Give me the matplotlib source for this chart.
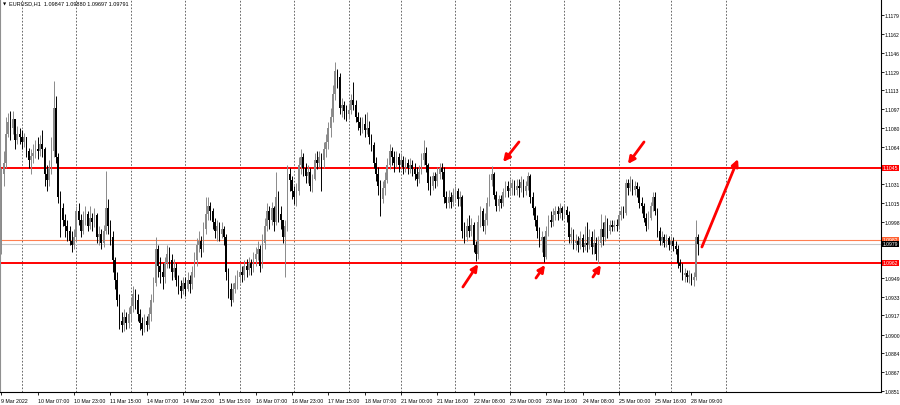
import matplotlib
matplotlib.use("Agg")
import matplotlib.pyplot as plt
from matplotlib.transforms import blended_transform_factory

plt.rcParams['font.family'] = ['Liberation Sans', 'DejaVu Sans']

# EURUSD H1, 9 Mar 2022 15:00 .. 28 Mar 2022
first_open = 1.0978
closes = [
    1.1040, 1.1050, 1.1075, 1.1085, 1.1080, 1.1088, 1.1070, 1.1075, 1.1072, 1.1068,
    1.1072, 1.1060, 1.1052, 1.1056, 1.1058, 1.1062, 1.1060, 1.1066, 1.1062, 1.1040,
    1.1035, 1.1045, 1.1060, 1.1098, 1.1055, 1.1020, 1.1010, 1.1000, 1.0995, 1.0990,
    1.0982, 1.0978, 1.0985, 1.1008, 1.1000, 1.0990, 1.1000, 1.1005, 1.0995, 1.1002,
    1.0998, 1.1004, 1.0985, 1.0988, 1.0980, 1.0990, 1.1010, 1.0995, 1.0985, 1.0965,
    1.0948, 1.0930, 1.0912, 1.0908, 1.0915, 1.0910, 1.0918, 1.0925, 1.0935, 1.0930,
    1.0918, 1.0910, 1.0905, 1.0912, 1.0908, 1.0918, 1.0930, 1.0945, 1.0975, 1.0960,
    1.0955, 1.0950, 1.0962, 1.0970, 1.0965, 1.0955, 1.0958, 1.0948, 1.0942, 1.0938,
    1.0945, 1.0940, 1.0948, 1.0944, 1.0955, 1.0965, 1.0978, 1.0982, 1.0975, 1.0992,
    1.1005, 1.1012, 1.1008, 1.0998, 1.0990, 1.0995, 1.0988, 1.0992, 1.0985, 1.0955,
    1.0940, 1.0930, 1.0940, 1.0945, 1.0950, 1.0955, 1.0952, 1.0960, 1.0956, 1.0962,
    1.0958, 1.0966, 1.0970, 1.0975, 1.0960, 1.0980, 1.0995, 1.1008, 1.1000, 1.1010,
    1.0998, 1.1020, 1.1005, 1.1000, 1.0985, 1.0995, 1.1040, 1.1035, 1.1025, 1.1020,
    1.1025, 1.1048, 1.1055, 1.1045, 1.1038, 1.1042, 1.1030, 1.1036, 1.1052, 1.1050,
    1.1055, 1.1052, 1.1062, 1.1068, 1.1080, 1.1090, 1.1110, 1.1130, 1.1125, 1.1098,
    1.1100, 1.1095, 1.1092, 1.1096, 1.1105, 1.1100, 1.1090, 1.1085, 1.1080, 1.1084,
    1.1078, 1.1080, 1.1072, 1.1065, 1.1050, 1.1040, 1.1030, 1.1018, 1.1028, 1.1035,
    1.1048, 1.1060, 1.1055, 1.1050, 1.1055, 1.1048, 1.1052, 1.1046, 1.1050, 1.1045,
    1.1048, 1.1044, 1.1040, 1.1036, 1.1042, 1.1052, 1.1058, 1.1048, 1.1032, 1.1030,
    1.1038, 1.1034, 1.1040, 1.1045, 1.1042, 1.1020, 1.1015, 1.1020, 1.1016, 1.1022,
    1.1025, 1.1018, 1.1020, 1.0990, 1.0985, 1.0995, 1.0990, 1.0996, 1.0978, 1.0970,
    1.0998, 1.1008, 1.0995, 1.1000, 1.1015, 1.1035, 1.1040, 1.1022, 1.1012, 1.1018,
    1.1015, 1.1024, 1.1030, 1.1025, 1.1028, 1.1032, 1.1026, 1.1030, 1.1028, 1.1033,
    1.1025, 1.1030, 1.1038, 1.1020, 1.1010, 1.1000, 1.0990, 1.0982, 1.0985, 1.0968,
    1.0990, 1.1000, 1.0998, 1.1004, 1.1008, 1.1005, 1.1010, 1.1006, 1.1009, 1.1004,
    1.0985, 1.0988, 1.0980, 1.0982, 1.0978, 1.0984, 1.0976, 1.0980, 1.0978, 1.0985,
    1.0976, 1.0980, 1.0970, 1.0980, 1.0992, 1.0985, 1.0998, 1.0990, 1.0996, 1.0994,
    1.0996, 1.0995, 1.1004, 1.1008, 1.1006, 1.1032, 1.1028, 1.1032, 1.1026, 1.1030,
    1.1027, 1.1015, 1.1012, 1.1002, 1.0995, 1.1002, 1.1012, 1.1020, 1.1008, 1.0990,
    1.0982, 1.0985, 1.0980, 1.0984, 1.0978, 1.0982, 1.0977, 1.0975, 1.0962, 1.0960,
    1.0952, 1.0954, 1.0950, 1.0952, 1.0948, 1.0950, 1.09847, 1.09791,
]
highs = [
    1.1045, 1.1060, 1.1090, 1.1093, 1.1095, 1.1095, 1.1088, 1.1082, 1.1080, 1.1078,
    1.1076, 1.1070, 1.1063, 1.1062, 1.1066, 1.1070, 1.1072, 1.1074, 1.1078, 1.1064,
    1.1048, 1.1052, 1.1072, 1.1121, 1.1108, 1.1058, 1.1025, 1.1015, 1.1005, 1.1000,
    1.0995, 1.0990, 1.0992, 1.1012, 1.1015, 1.1005, 1.1008, 1.1012, 1.1008, 1.1012,
    1.1006, 1.1010, 1.1006, 1.0995, 1.0992, 1.0996, 1.1043, 1.1018, 1.1000, 1.0990,
    1.0968, 1.0955, 1.0935, 1.0920, 1.0922, 1.0920, 1.0924, 1.0932, 1.0942, 1.0940,
    1.0935, 1.0922, 1.0915, 1.0918, 1.0916, 1.0924, 1.0935, 1.0950, 1.0985, 1.0978,
    1.0968, 1.0962, 1.0968, 1.0978, 1.0976, 1.0970, 1.0966, 1.0962, 1.0952, 1.0948,
    1.0950, 1.0950, 1.0955, 1.0952, 1.0960, 1.0972, 1.0984, 1.0990, 1.0986, 1.0998,
    1.1020, 1.1020, 1.1016, 1.1010, 1.1002, 1.1000, 1.0998, 1.0998, 1.0995, 1.0988,
    1.0958, 1.0945, 1.0945, 1.0952, 1.0956, 1.0962, 1.0960, 1.0965, 1.0966, 1.0968,
    1.0966, 1.0972, 1.0976, 1.0982, 1.0978, 1.0988, 1.1002, 1.1015, 1.1012, 1.1016,
    1.1012, 1.1042, 1.1025, 1.1012, 1.1000, 1.1000, 1.1048, 1.1045, 1.1038, 1.1030,
    1.1032, 1.1055, 1.1062, 1.1058, 1.1050, 1.1048, 1.1045, 1.1040, 1.1058, 1.1060,
    1.1060, 1.1058, 1.1068, 1.1075, 1.1085, 1.1098, 1.1118, 1.1138, 1.1132, 1.1128,
    1.1106, 1.1104, 1.1100, 1.1102, 1.1110, 1.1120, 1.1105, 1.1094, 1.1090, 1.1090,
    1.1092, 1.1094, 1.1086, 1.1075, 1.1068, 1.1055, 1.1046, 1.1035, 1.1034, 1.1042,
    1.1054, 1.1066, 1.1064, 1.1060, 1.1060, 1.1058, 1.1058, 1.1056, 1.1055, 1.1053,
    1.1054, 1.1052, 1.1050, 1.1046, 1.1048, 1.1058, 1.1070, 1.1064, 1.1050, 1.1038,
    1.1042, 1.1042, 1.1046, 1.1050, 1.1050, 1.1046, 1.1025, 1.1026, 1.1024, 1.1028,
    1.1030, 1.1028, 1.1025, 1.1022, 1.0998, 1.1002, 1.1004, 1.1002, 1.0998, 1.0982,
    1.1004, 1.1012, 1.1010, 1.1006, 1.1020, 1.1040, 1.1047, 1.1042, 1.1025, 1.1022,
    1.1022, 1.1028, 1.1034, 1.1034, 1.1036, 1.1036, 1.1035, 1.1036, 1.1036, 1.1038,
    1.1036, 1.1034, 1.1042, 1.1040, 1.1024, 1.1012, 1.1004, 1.0994, 1.0990, 1.0986,
    1.0995, 1.1004, 1.1008, 1.1010, 1.1012, 1.1012, 1.1015, 1.1012, 1.1014, 1.1012,
    1.1008, 1.0994, 1.0992, 1.0988, 1.0986, 1.0990, 1.0988, 1.0995, 1.0998, 1.0992,
    1.0990, 1.0992, 1.0985, 1.0986, 1.1005, 1.0998, 1.1004, 1.1002, 1.1000, 1.1000,
    1.1000, 1.1001, 1.1008, 1.1012, 1.1012, 1.1036, 1.1036, 1.1038, 1.1036, 1.1034,
    1.1033, 1.1030, 1.1020, 1.1015, 1.1006, 1.1008, 1.1016, 1.1024, 1.1024, 1.1010,
    1.0994, 1.0990, 1.0988, 1.0988, 1.0986, 1.0986, 1.0985, 1.0982, 1.0978, 1.0966,
    1.0962, 1.0958, 1.0956, 1.0956, 1.0954, 1.0955, 1.1000, 1.09880,
]
lows = [
    1.0970, 1.1030, 1.1045, 1.1072, 1.1070, 1.1075, 1.1062, 1.1066, 1.1066, 1.1062,
    1.1064, 1.1055, 1.1045, 1.1040, 1.1050, 1.1054, 1.1053, 1.1056, 1.1055, 1.1030,
    1.1025, 1.1030, 1.1040, 1.1055, 1.1050, 1.1015, 1.0985, 1.0995, 1.0985, 1.0982,
    1.0978, 1.0972, 1.0975, 1.0982, 1.0996, 1.0985, 1.0988, 1.0996, 1.0990, 1.0992,
    1.0990, 1.0994, 1.0980, 1.0978, 1.0975, 1.0976, 1.0988, 1.0988, 1.0978, 1.0955,
    1.0940, 1.0925, 1.0905, 1.0902, 1.0903, 1.0905, 1.0906, 1.0912, 1.0920, 1.0922,
    1.0912, 1.0904, 1.0900, 1.0902, 1.0903, 1.0905, 1.0912, 1.0928, 1.0942, 1.0950,
    1.0945, 1.0940, 1.0945, 1.0958, 1.0958, 1.0948, 1.0950, 1.0942, 1.0935, 1.0932,
    1.0935, 1.0934, 1.0938, 1.0936, 1.0940, 1.0950, 1.0960, 1.0972, 1.0968, 1.0972,
    1.0988, 1.1000, 1.1000, 1.0992, 1.0984, 1.0982, 1.0982, 1.0984, 1.0978, 1.0948,
    1.0932, 1.0925, 1.0928, 1.0936, 1.0940, 1.0945, 1.0946, 1.0948, 1.0950, 1.0952,
    1.0952, 1.0955, 1.0960, 1.0965, 1.0955, 1.0958, 1.0975, 1.0990, 1.0992, 1.0996,
    1.0990, 1.0996, 1.0998, 1.0992, 1.0980, 1.0950, 1.0990, 1.1025, 1.1018, 1.1014,
    1.1012, 1.1022, 1.1040, 1.1038, 1.1032, 1.1032, 1.1025, 1.1024, 1.1035, 1.1044,
    1.1046, 1.1025, 1.1045, 1.1055, 1.1062, 1.1072, 1.1085, 1.1105, 1.1115, 1.1092,
    1.1090, 1.1088, 1.1086, 1.1088, 1.1092, 1.1096, 1.1085, 1.1078, 1.1074, 1.1076,
    1.1072, 1.1075, 1.1066, 1.1060, 1.1045, 1.1034, 1.1022, 1.1003, 1.1015, 1.1022,
    1.1032, 1.1044, 1.1048, 1.1042, 1.1046, 1.1042, 1.1044, 1.1040, 1.1042, 1.1040,
    1.1041, 1.1038, 1.1035, 1.1030, 1.1032, 1.1040, 1.1048, 1.1042, 1.1026, 1.1022,
    1.1026, 1.1028, 1.1030, 1.1036, 1.1036, 1.1015, 1.1010, 1.1010, 1.1010, 1.1012,
    1.1016, 1.1012, 1.1012, 1.0984, 1.0980, 1.0982, 1.0985, 1.0986, 1.0972, 1.0964,
    1.0966, 1.0994, 1.0990, 1.0988, 1.0996, 1.1012, 1.1030, 1.1018, 1.1008, 1.1008,
    1.1010, 1.1012, 1.1020, 1.1020, 1.1022, 1.1022, 1.1022, 1.1022, 1.1020, 1.1024,
    1.1020, 1.1022, 1.1026, 1.1015, 1.1004, 1.0995, 1.0984, 1.0976, 1.0972, 1.0963,
    1.0966, 1.0986, 1.0994, 1.0995, 1.1000, 1.1000, 1.1002, 1.1000, 1.1002, 1.0998,
    1.0980, 1.0980, 1.0975, 1.0974, 1.0972, 1.0975, 1.0972, 1.0974, 1.0972, 1.0975,
    1.0970, 1.0970, 1.0965, 1.0962, 1.0976, 1.0978, 1.0982, 1.0984, 1.0988, 1.0990,
    1.0990, 1.0990, 1.0992, 1.1000, 1.1002, 1.1004, 1.1022, 1.1025, 1.1022, 1.1022,
    1.1020, 1.1010, 1.1006, 1.0998, 1.0990, 1.0992, 1.1000, 1.1008, 1.1004, 1.0985,
    1.0978, 1.0978, 1.0976, 1.0976, 1.0974, 1.0975, 1.0973, 1.0970, 1.0958, 1.0955,
    1.0948, 1.0946, 1.0946, 1.0945, 1.0943, 1.0942, 1.0948, 1.09697,
]
opens = [first_open] + closes[:-1]

# time axis: a label every 16 bars, a dotted line at each day start
label_bars = list(range(0, 305, 16))
label_text = ["9 Mar 2022", "10 Mar 07:00", "10 Mar 23:00", "11 Mar 15:00",
              "14 Mar 07:00", "14 Mar 23:00", "15 Mar 15:00", "16 Mar 07:00",
              "16 Mar 23:00", "17 Mar 15:00", "18 Mar 07:00", "21 Mar 00:00",
              "21 Mar 16:00", "22 Mar 08:00", "23 Mar 00:00", "23 Mar 16:00",
              "24 Mar 08:00", "25 Mar 00:00", "25 Mar 16:00", "28 Mar 09:00"]
day_bars = [9, 33, 57, 81, 105, 129, 153, 176, 200, 224, 248, 272, 295, 319]

price_ticks = [1.1179, 1.1162, 1.1146, 1.1129, 1.1113, 1.1097, 1.1080, 1.1064,
               1.1031, 1.1015, 1.0998, 1.0949, 1.0933, 1.0917, 1.0900,
               1.0884, 1.0867, 1.0851]

resistance = 1.10455
support = 1.09625
ask_level = 1.09827
bid_level = 1.09791

# arrows: (tail bar, tail price, head bar, head price)
arrows = [
    (228.0, 1.10680, 221.0, 1.10505),
    (283.1, 1.10680, 276.0, 1.10488),
    (203.3, 1.09415, 210.0, 1.09615),
    (235.5, 1.09493, 239.5, 1.09607),
    (260.6, 1.09502, 264.1, 1.09607),
    (308.6, 1.09764, 324.5, 1.10531),
]

fig = plt.figure(figsize=(9, 4.06), dpi=100)
ax = fig.add_axes([0, 13 / 406, 881 / 900, 393 / 406])
ax.set_xlim(-0.62, 387.5)
ax.set_ylim(1.08499, 1.11927)

for b in day_bars:
    ax.axvline(b, color='#505050', lw=0.6, ls=(0, (2, 2)), zorder=1)

ax.axhline(resistance, color='#ff0000', lw=1.4, zorder=2)
ax.axhline(support, color='#ff0000', lw=1.4, zorder=2)
ax.axhline(ask_level, color='#ff7f50', lw=0.8, zorder=2)
ax.axhline(bid_level, color='#c8c8c8', lw=0.8, zorder=2)

idx = list(range(len(closes)))
cols = ['#8a8a8a' if c >= o else '#000000' for o, c in zip(opens, closes)]
ax.vlines(idx, lows, highs, colors=cols, lw=0.7, zorder=3)
bottoms = [min(o, c) for o, c in zip(opens, closes)]
heights = [max(abs(c - o), 0.00004) for o, c in zip(opens, closes)]
ax.bar(idx, heights, bottom=bottoms, width=0.72, color=cols, lw=0, zorder=4)

for tx, ty, hx, hy in arrows:
    ax.annotate('', xy=(hx, hy), xytext=(tx, ty),
                arrowprops=dict(arrowstyle='-|>', color='#ff0000', lw=2.0,
                                mutation_scale=10, shrinkA=0, shrinkB=0),
                zorder=6)

# axes look
ax.spines['top'].set_visible(False)
ax.spines['left'].set_color('#909090')
ax.spines['left'].set_linewidth(0.8)
ax.spines['right'].set_linewidth(0.8)
ax.spines['bottom'].set_linewidth(0.8)

ax.yaxis.tick_right()
ax.set_yticks(price_ticks)
ax.set_yticklabels([f"{p:.4f}" for p in price_ticks])
ax.tick_params(axis='y', length=2, width=0.6, labelsize=3.6, pad=0.8)

ax.set_xticks(label_bars)
ax.set_xticklabels(label_text)
ax.tick_params(axis='x', length=2.5, width=0.6, labelsize=3.8, pad=1.5)
for lbl in ax.get_xticklabels():
    lbl.set_ha('left')

# price boxes on the right scale
tr = blended_transform_factory(ax.transAxes, ax.transData)
boxes = [(resistance, "1.1045", '#ff0000', 'white'),
         (ask_level, "1.0982", '#ff6030', 'white'),
         (bid_level, "1.0979", '#000000', 'white'),
         (support, "1.0962", '#ff0000', 'white')]
for y, txt, bg, fg in boxes:
    ax.text(1.002, y, txt, transform=tr, fontsize=3.6, color=fg, va='center',
            ha='left', clip_on=False, zorder=7,
            bbox=dict(boxstyle='square,pad=0.15', fc=bg, ec='none'))

fig.text(3 / 900, 1 - 4 / 406, "\u25bc", fontsize=3, va='center', ha='left',
         family=['DejaVu Sans'])
fig.text(9 / 900, 1 - 4 / 406,
         "EURUSD,H1  1.09847 1.09880 1.09697 1.09791",
         fontsize=4, va='center', ha='left')

fig.savefig('out.png', dpi=100, facecolor='white')
